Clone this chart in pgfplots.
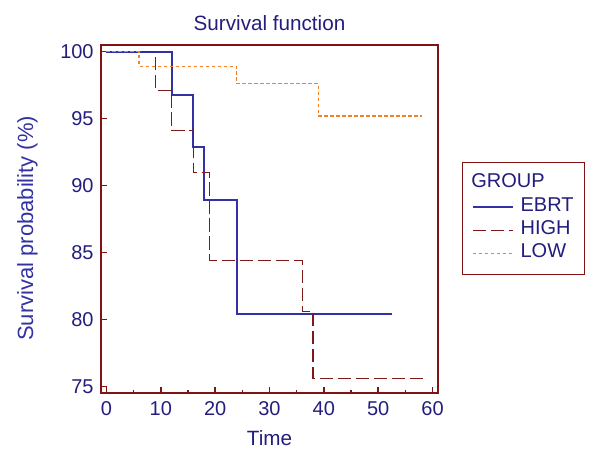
\documentclass[border=0pt]{standalone}
\usepackage{pgfplots}
\pgfplotsset{compat=1.18}
\usepackage{fontspec}
\setmainfont{Liberation Sans}

\definecolor{frame}{RGB}{128,20,20}
\definecolor{navy}{RGB}{35,30,125}
\definecolor{ebrt}{RGB}{50,50,165}
\definecolor{high}{RGB}{125,25,25}
\definecolor{low}{RGB}{240,130,40}

\begin{document}
\begin{tikzpicture}
\path[use as bounding box] (-75.75pt,-44.25pt) rectangle ++(447.75pt,339pt);
\begin{axis}[
  scale only axis, width=252.75pt, height=261pt,
  xmin=-1, xmax=61, ymin=74.5, ymax=100.5,
  xtick={0,10,...,60}, minor xtick={5,15,...,55},
  ytick={75,80,...,100},
  xtick pos=left, ytick pos=left, tick align=inside,
  major tick length=4.5pt, minor tick length=2pt,
  axis line style={frame, line width=1.3pt},
  every tick/.style={frame, line width=1.1pt},
  tick label style={font=\fontsize{15}{17}\selectfont, text=navy},
  xticklabel style={yshift=-3pt},
  yticklabel style={xshift=-2pt},
  /pgf/number format/assume math mode=true,
  title={Survival function},
  title style={font=\fontsize{15.5}{18}\selectfont, text=navy, yshift=1pt},
  xlabel={Time},
  xlabel style={font=\fontsize{15.5}{18}\selectfont, text=navy, yshift=-4pt},
  ylabel={Survival probability (\%)},
  ylabel style={font=\fontsize{16.5}{18}\selectfont, text=ebrt, yshift=10pt, xshift=-7pt},
  legend cell align=left,
  legend image code/.code={\draw[#1] (0pt,0pt) -- (30pt,0pt);},
  legend style={at={(1.0712,0.6638)}, anchor=north west,
    draw=frame, line width=0.9pt, inner xsep=7pt, inner ysep=7pt,
    font=\fontsize{15}{17}\selectfont, text=navy, row sep=0pt,
    nodes={inner sep=1pt, text height=11pt, text depth=4.5pt},
    /tikz/every odd column/.append style={column sep=4pt}},
]
\addlegendimage{empty legend}
\addlegendentry{\makebox[0pt][l]{\hspace*{-37pt}GROUP}}
\addplot[const plot, ebrt, line width=1.5pt] coordinates {
  (0,100) (12,96.8) (16,92.9) (18,88.9) (24,80.4) (52.5,80.4)};
\addlegendentry{EBRT}
\addplot[const plot, high, line width=0.9pt, dash pattern=on 10pt off 3.5pt] coordinates {
  (0,100) (9,97.1) (12,94.1) (16,91.0) (19,84.4) (36,80.6) (38,75.6) (58.5,75.6)};
\addlegendentry{HIGH}
\addplot[const plot, low, line width=0.9pt, dash pattern=on 2.5pt off 2pt] coordinates {
  (0,100) (6,98.9) (24,97.6) (39,95.2) (58,95.2)};
\addlegendentry{LOW}
\end{axis}
\end{tikzpicture}
\end{document}
